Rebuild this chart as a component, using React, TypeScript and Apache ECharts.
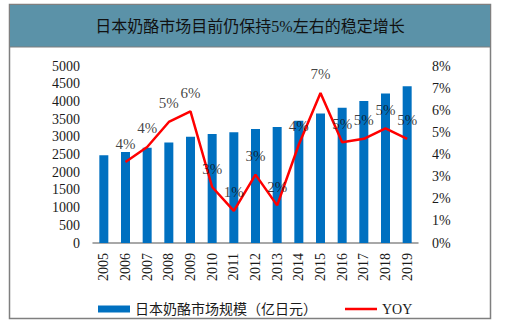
import React, { useEffect, useRef } from "react";
import * as echarts from "echarts";

const years = ["2005", "2006", "2007", "2008", "2009", "2010", "2011", "2012", "2013", "2014", "2015", "2016", "2017", "2018", "2019"];
const marketSize = [2480, 2570, 2690, 2840, 3000, 3080, 3130, 3220, 3280, 3450, 3660, 3820, 4010, 4220, 4430];
const yoy: (number | null)[] = [null, 3.66, 4.34, 5.47, 5.95, 2.53, 1.45, 3.09, 1.7, 4.45, 6.78, 4.55, 4.71, 5.18, 4.71];
const leftTicks = { min: 0, max: 5000, interval: 500 };
const rightTicks = { min: 0, max: 8, interval: 1 };
const titleText = "日本奶酪市场目前仍保持5%左右的稳定增长";
const barName = "日本奶酪市场规模（亿日元）";
const lineName = "YOY";

const SERIF = "'Liberation Serif', 'Times New Roman', serif";
const MIXED = "'Liberation Serif', 'Noto Sans CJK SC', serif";

export default function App() {
  const ref = useRef<HTMLDivElement>(null);
  useEffect(() => {
    if (!ref.current) return;
    const chart = echarts.init(ref.current, undefined, { renderer: "svg" });
    chart.setOption({
      animation: false,
      backgroundColor: "#ffffff",
      graphic: [
        {
          type: "rect",
          shape: { x: 9.5, y: 4.5, width: 481, height: 314 },
          style: { fill: "#ffffff", stroke: "#7f7f7f", lineWidth: 1.5 },
          z: -10,
        },
        {
          type: "rect",
          shape: { x: 9.5, y: 4.5, width: 481, height: 42.5 },
          style: { fill: "#5b92a8", stroke: "#7f7f7f", lineWidth: 1 },
          z: -9,
        },
        {
          type: "text",
          x: 250,
          y: 26,
          style: {
            text: titleText,
            fill: "#111111",
            fontSize: 16,
            fontFamily: "'Liberation Serif', 'Noto Sans CJK SC'",
            fontWeight: "normal",
            align: "center",
            verticalAlign: "middle",
          },
          z: 10,
        },
      ],
      grid: { left: 93, right: 97, top: 66, bottom: 81, containLabel: false },
      legend: {
        left: 93,
        top: 297,
        itemWidth: 32,
        itemHeight: 7,
        itemGap: 28,
        symbolKeepAspect: true,
        textStyle: { fontFamily: MIXED, fontSize: 14, color: "#1a1a1a" },
        data: [
          { name: barName, icon: "rect" },
          { name: lineName, icon: "path://M0,0 L32,0 L32,2.5 L0,2.5 Z", itemStyle: { color: "#ff0000" } },
        ],
      },
      xAxis: {
        type: "category",
        data: years,
        boundaryGap: true,
        axisTick: { show: false },
        axisLine: { lineStyle: { color: "#8c8c8c", width: 1.5 } },
        axisLabel: { rotate: 90, margin: 10, fontFamily: SERIF, fontSize: 14, color: "#1a1a1a" },
      },
      yAxis: [
        {
          type: "value",
          ...leftTicks,
          splitLine: { show: false },
          axisLine: { show: false },
          axisTick: { show: false },
          axisLabel: {
            margin: 13,
            formatter: (v: number) => String(v),
            fontFamily: SERIF,
            fontSize: 14,
            color: "#1a1a1a",
          },
        },
        {
          type: "value",
          ...rightTicks,
          position: "right",
          splitLine: { show: false },
          axisLine: { show: false },
          axisTick: { show: false },
          axisLabel: { margin: 14, formatter: "{value}%", fontFamily: SERIF, fontSize: 14, color: "#1a1a1a" },
        },
      ],
      series: [
        {
          name: barName,
          type: "bar",
          data: marketSize,
          barWidth: 9,
          itemStyle: { color: "#0070c0" },
          yAxisIndex: 0,
        },
        {
          name: lineName,
          type: "line",
          data: yoy,
          yAxisIndex: 1,
          symbol: "none",
          connectNulls: false,
          lineStyle: { color: "#ff0000", width: 2.5 },
          itemStyle: { color: "#ff0000" },
          z: 5,
        },
        {
          name: "yoyLabels",
          type: "scatter",
          data: yoy,
          yAxisIndex: 1,
          symbolSize: 0,
          itemStyle: { color: "rgba(0,0,0,0)" },
          silent: true,
          z: 6,
          label: {
            show: true,
            position: "top",
            distance: 11,
            fontFamily: SERIF,
            fontSize: 15,
            color: "#111111",
            formatter: (p: any) => (p.value == null ? "" : Math.round(p.value) + "%"),
          },
        },
      ],
    });
    return () => chart.dispose();
  }, []);
  return (
    <div
      ref={ref}
      style={{ position: "fixed", left: 0, top: 0, width: 515, height: 324 }}
    />
  );
}
